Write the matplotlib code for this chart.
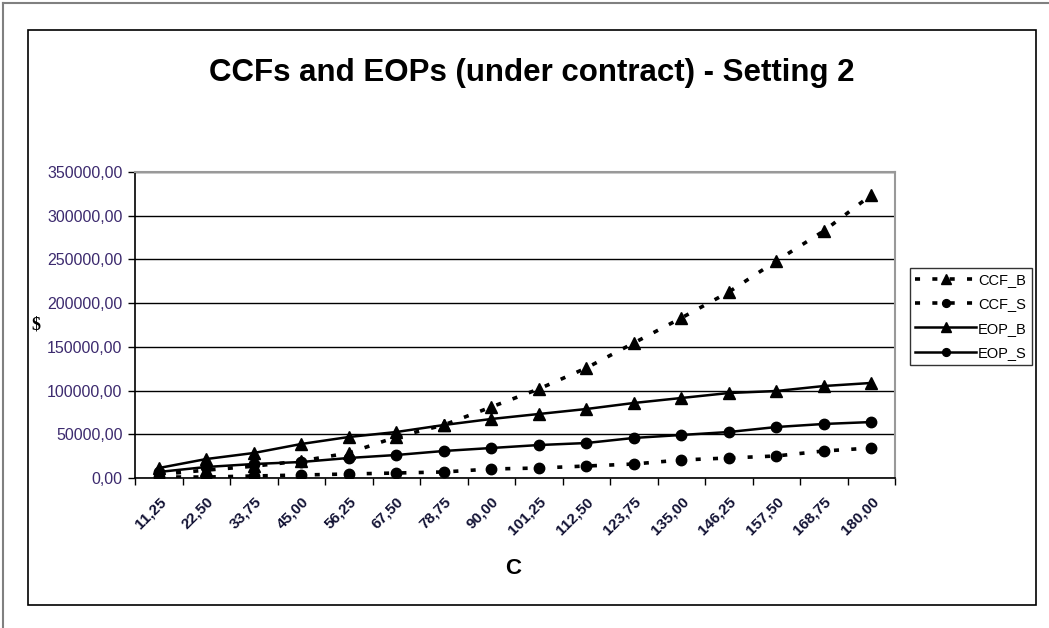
import numpy as np
import matplotlib.pyplot as plt
from matplotlib.patches import Rectangle

# category labels on the x axis (C)
labels = ["11,25", "22,50", "33,75", "45,00", "56,25", "67,50", "78,75", "90,00",
          "101,25", "112,50", "123,75", "135,00", "146,25", "157,50", "168,75", "180,00"]

# values ($)
ccf_b = [4000, 9000, 13500, 19500, 28600, 46900, 60600, 81200,
         101800, 125800, 154400, 183000, 212700, 248200, 282500, 323700]
ccf_s = [1100, 1100, 2300, 3400, 4600, 5700, 6900, 10300,
         11400, 13700, 16000, 20600, 22900, 25200, 30900, 34300]
eop_b = [11400, 21700, 28600, 38900, 46900, 52600, 60600, 67500,
         73200, 78900, 85800, 91500, 97200, 99500, 105200, 108700]
eop_s = [6900, 12600, 16000, 18300, 22900, 26300, 30900, 34300,
         37700, 40000, 45800, 49200, 52600, 58300, 61800, 64000]

W, H = 1049, 628
fig = plt.figure(figsize=(W / 100, H / 100), dpi=100)
fig.patch.set_facecolor('white')

# outer frame (gray, top/left) and chart area border
fig.add_artist(plt.Line2D([3 / W, 3 / W], [0, 1 - 3 / H], transform=fig.transFigure, color='#808080', lw=1.5))
fig.add_artist(plt.Line2D([3 / W, 1], [1 - 3 / H, 1 - 3 / H], transform=fig.transFigure, color='#808080', lw=1.5))
fig.add_artist(Rectangle((28 / W, 1 - 605 / H), (1036 - 28) / W, (605 - 30) / H,
                         transform=fig.transFigure, fill=False, ec='black', lw=1.2))

ax = fig.add_axes([135 / W, 1 - 478 / H, (895 - 135) / W, (478 - 172) / H])

x = np.arange(len(labels))
dot = (0, (1.4, 3.4))
ax.plot(x, ccf_b, color='black', lw=2.6, ls=dot, marker='^', ms=9, label='CCF_B')
ax.plot(x, ccf_s, color='black', lw=2.6, ls=dot, marker='o', ms=7.5, label='CCF_S')
ax.plot(x, eop_b, color='black', lw=1.8, ls='-', marker='^', ms=9, label='EOP_B')
ax.plot(x, eop_s, color='black', lw=1.8, ls='-', marker='o', ms=7.5, label='EOP_S')

ax.set_xlim(-0.5, len(labels) - 0.5)
ax.set_ylim(0, 350000)
yt = np.arange(0, 350001, 50000)
ax.set_yticks(yt)
ax.set_yticklabels(['{:d},00'.format(v) for v in yt], fontsize=11.5, color='#3c2a6e',
                   family='Liberation Sans')
ax.yaxis.grid(True, color='black', lw=1)
ax.set_axisbelow(True)

ax.set_xticks(np.arange(len(labels) + 1) - 0.5)
ax.set_xticklabels([])
ax.set_xticks(x, minor=True)
ax.set_xticklabels(labels, minor=True, rotation=45, ha='right', va='top',
                   fontsize=11, fontweight='bold', family='Liberation Sans', color='#111133',
                   rotation_mode='anchor')
ax.tick_params(axis='x', which='minor', length=0, pad=12)
ax.tick_params(axis='x', which='major', length=5, width=1, direction='out')
ax.tick_params(axis='y', length=5, width=1, direction='out', pad=4)

for s in ['top', 'right']:
    ax.spines[s].set_color('#999999')
    ax.spines[s].set_linewidth(1.5)
for s in ['left', 'bottom']:
    ax.spines[s].set_color('black')
    ax.spines[s].set_linewidth(1.2)

fig.text(532 / W, 1 - 73 / H, 'CCFs and EOPs (under contract) - Setting 2', ha='center', va='center',
         fontsize=22.5, fontweight='bold', family='Liberation Sans')
fig.text(36 / W, 1 - 325 / H, '$', ha='center', va='center', fontsize=13, fontweight='bold',
         family='Liberation Serif')
fig.text(513 / W, 1 - 568 / H, 'C', ha='center', va='center', fontsize=16, fontweight='bold',
         family='Liberation Sans')

leg = fig.legend(loc='upper left', bbox_to_anchor=(910 / W, 1 - 268 / H),
                 prop={'family': 'Liberation Sans', 'size': 10.5},
                 frameon=True, fancybox=False, handlelength=4.2, handletextpad=0.1,
                 borderpad=0.35, labelspacing=0.7, borderaxespad=0, markerscale=0.75)
leg.get_frame().set_edgecolor('black')
leg.get_frame().set_linewidth(1)

fig.savefig('out.png', dpi=100)
